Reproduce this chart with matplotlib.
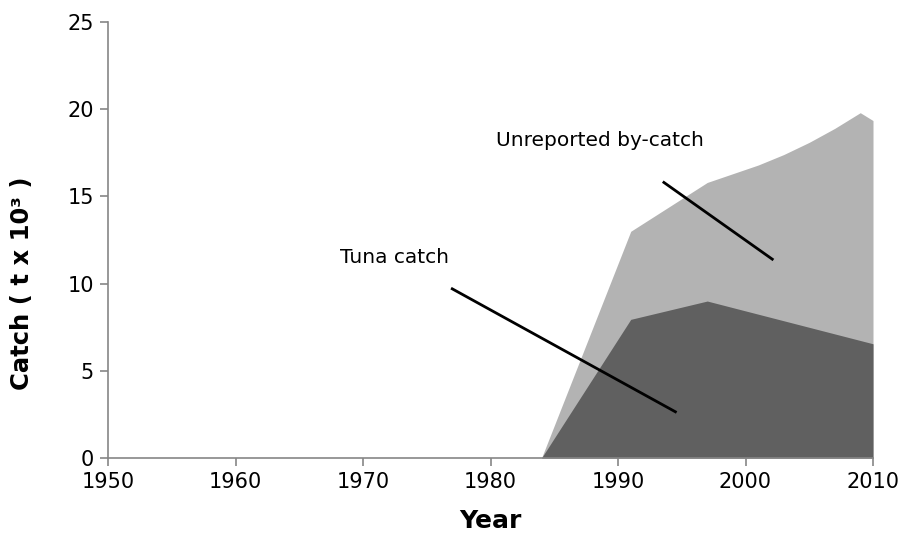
import matplotlib
matplotlib.use("Agg")
import matplotlib.pyplot as plt

# Total catch (tuna + unreported by-catch), t x 10^3
total_years = [1984, 1991, 1997, 1998, 1999, 2000, 2001, 2002, 2003, 2004, 2005, 2006, 2007, 2008, 2009, 2010]
total_vals = [0, 13.0, 15.8, 16.05, 16.3, 16.55, 16.8, 17.1, 17.4, 17.75, 18.1, 18.5, 18.9, 19.35, 19.8, 19.35]

# Tuna catch
tuna_years = [1984, 1991, 1997, 2010]
tuna_vals = [0, 7.95, 9.0, 6.55]

x_ticks = [1950, 1960, 1970, 1980, 1990, 2000, 2010]
y_ticks = [0, 5, 10, 15, 20, 25]

plt.rcParams['font.family'] = ['DejaVu Sans']

fig = plt.figure(figsize=(9.08, 5.46), dpi=100)
ax = fig.add_axes([108/908, 1-458/546, (873-108)/908, (458-22)/546])

ax.fill_between(total_years, 0, total_vals, color='#b3b3b3', linewidth=0)
ax.fill_between(tuna_years, 0, tuna_vals, color='#606060', linewidth=0)

ax.set_xlim(1950, 2010)
ax.set_ylim(0, 25)
ax.set_xticks(x_ticks)
ax.set_yticks(y_ticks)
for s in ['top', 'right']:
    ax.spines[s].set_visible(False)
for s in ['left', 'bottom']:
    ax.spines[s].set_color('#868686')
    ax.spines[s].set_linewidth(1.2)
ax.tick_params(axis='both', direction='out', length=6, width=1.2, color='#868686',
               labelsize=15, pad=4)
ax.set_xlabel('Year', fontsize=18, fontweight='bold')
ax.xaxis.set_label_coords(0.5, -0.118)
ax.set_ylabel('Catch ( t x 10³ )', fontsize=17.5, fontweight='bold')
ax.yaxis.set_label_coords(-0.097, 0.40)

# annotations (in data coordinates)
ax.text(1988.6, 18.2, 'Unreported by-catch', fontsize=14.5, ha='center', va='center')
ax.plot([1993.6, 2002.1], [15.8, 11.4], color='black', lw=2, clip_on=False)
ax.text(1972.5, 11.5, 'Tuna catch', fontsize=14.5, ha='center', va='center')
ax.plot([1977.0, 1994.5], [9.7, 2.65], color='black', lw=2, clip_on=False)

fig.savefig('out.png', dpi=100)
